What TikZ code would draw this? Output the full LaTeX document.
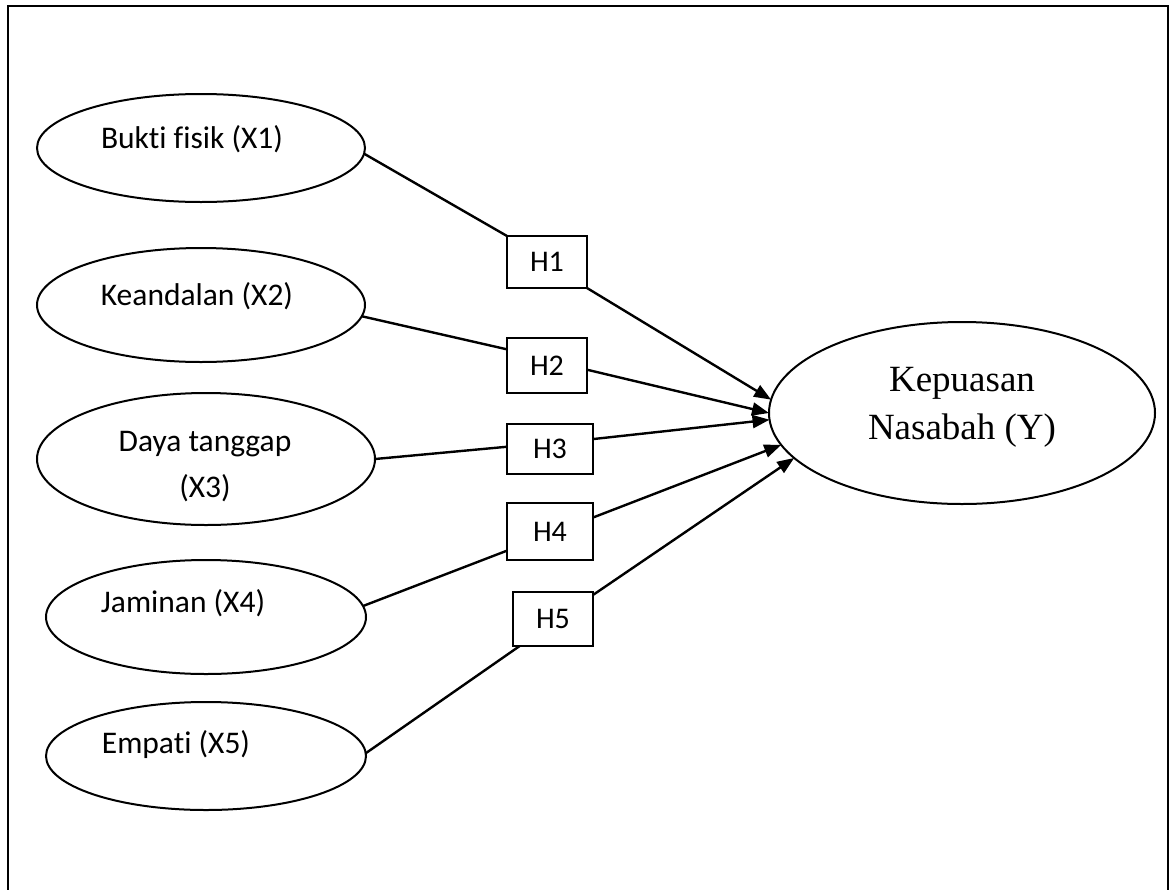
\documentclass[tikz,border=0pt]{standalone}
\usepackage{fontspec}
\setmainfont{Carlito}[Ligatures=NoCommon]
\newfontfamily\serifY{Liberation Serif}
\usetikzlibrary{shapes.geometric,arrows.meta}
\tikzset{
  var/.style={ellipse, draw, line width=2pt, inner sep=0pt, outer sep=0pt},
  lab/.style={inner sep=0pt, outer sep=0pt, font=\fontsize{31.5}{46}\selectfont, align=center},
  hyp/.style={rectangle, draw, line width=1.8pt, inner sep=0pt, outer sep=0pt, font=\fontsize{30}{36}\selectfont},
  conn/.style={line width=2.4pt},
  arr/.style={line width=2.4pt, -{Triangle[length=17pt,width=13pt]}}
}
\begin{document}
\begin{tikzpicture}[x=1pt,y=-1pt]
\useasboundingbox (0,0) rectangle (1175,889);
\draw[line width=2.2pt] (8,892) -- (8,6) -- (1168,6) -- (1168,892);

% left ellipses
\node[var, minimum width=328pt, minimum height=108pt,
  label={[lab, xshift=-9pt, yshift=8.7pt]center:Bukti fisik (X1)}] (e1) at (201,148) {};
\node[var, minimum width=328pt, minimum height=114pt,
  label={[lab, xshift=-4pt, yshift=8.7pt]center:Keandalan (X2)}] (e2) at (201,305) {};
\node[var, minimum width=338pt, minimum height=132pt,
  label={[lab, xshift=-1pt, yshift=-8pt]center:Daya tanggap\\(X3)}] (e3) at (206,459) {};
\node[var, minimum width=320pt, minimum height=114pt,
  label={[lab, xshift=-23pt, yshift=13.7pt]center:Jaminan (X4)}] (e4) at (206,617) {};
\node[var, minimum width=320pt, minimum height=108pt,
  label={[lab, xshift=-30pt, yshift=11.7pt]center:Empati (X5)}] (e5) at (206,756) {};

% dependent variable
\node[var, minimum width=386pt, minimum height=182pt,
  label={[inner sep=0pt, outer sep=0pt, align=center, yshift=6pt,
          font=\serifY\fontsize{37}{48}\selectfont]center:Kepuasan\\Nasabah (Y)}] (y) at (962,413) {};

% hypothesis boxes
\node[hyp, minimum width=80pt, minimum height=52pt] (h1) at (547,262) {H1};
\node[hyp, minimum width=80pt, minimum height=55pt] (h2) at (547,365.5) {H2};
\node[hyp, minimum width=86pt, minimum height=50pt] (h3) at (550,449) {H3};
\node[hyp, minimum width=86pt, minimum height=57pt] (h4) at (550,531.5) {H4};
\node[hyp, minimum width=80pt, minimum height=54pt] (h5) at (553,619) {H5};

% connectors
\draw[conn] (e1.-2) -- (h1.north west);
\draw[conn] (e2.-4) -- (h2.158.8);
\draw[conn] (e3.0) -- (h3.177.3);
\draw[conn] (e4.4.7) -- (h4.204.4);
\draw[conn] (e5.1.4) -- (h5.219.3);

\draw[arr] (h1.south east) -- (y.176.1);
\draw[arr] (h2.-6.4) -- (y.180);
\draw[arr] (h3.13.1) -- (y.182.7);
\draw[arr] (h4.18.6) -- (y.190.4);
\draw[arr] (h5.31) -- (y.195.1);
\end{tikzpicture}
\end{document}
